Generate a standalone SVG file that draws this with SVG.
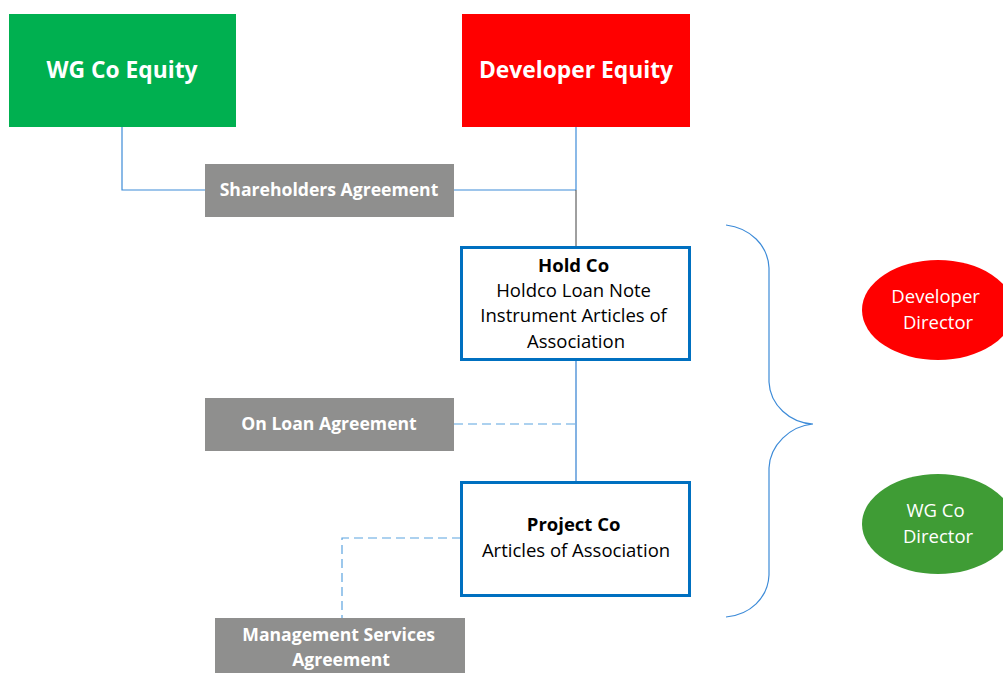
<svg xmlns="http://www.w3.org/2000/svg" width="1003" height="673" viewBox="0 0 1003 673">
<style>
.t{font-family:"Open Sans","Liberation Sans",sans-serif;text-anchor:middle}
.w{fill:#fff}
.b{font-weight:bold}
.gray{fill:#8F8F8E}
.co{fill:#fff;stroke:#0070C0;stroke-width:3}
.ln{fill:none;stroke:#3D8BD8;stroke-width:1.2}
.dash{fill:none;stroke:#5BA3E0;stroke-width:1.2;stroke-dasharray:9 5}
</style>
<rect width="1003" height="673" fill="#fff"/>
<g id="connectors">
<polyline class="ln" points="122,127 122,190 205,190"/>
<polyline class="ln" points="454,190 576,190"/>
<line class="ln" x1="576" y1="127" x2="576" y2="190"/>
<line x1="576" y1="190" x2="576" y2="247" stroke="#404040" stroke-width="1"/>
<line x1="576" y1="360" x2="576" y2="482" stroke="#2F7FD0" stroke-width="1.2"/>
<line class="dash" x1="454" y1="424" x2="576" y2="424"/>
<polyline class="dash" points="461,538 342,538 342,618"/>
<path class="ln" d="M726,225 C750,228 768,245 769,268 L769,382 C770,405 790,423 813,424 C790,426 770,445 769,468 L769,575 C768,598 750,615 726,617" stroke="#2F7FD0"/>
</g>
<g id="wgco-equity">
<rect x="9" y="14" width="227" height="113" fill="#00B050"/>
<text class="t w b" x="122" y="78" font-size="22.8">WG Co Equity</text>
</g>
<g id="developer-equity">
<rect x="462" y="14" width="228" height="113" fill="#FF0000"/>
<text class="t w b" x="576" y="78" font-size="22.8">Developer Equity</text>
</g>
<g id="shareholders-agreement">
<rect class="gray" x="205" y="164" width="249" height="53"/>
<text class="t w b" x="329" y="196" font-size="17.6">Shareholders Agreement</text>
</g>
<g id="hold-co">
<rect class="co" x="461.5" y="247.5" width="228" height="112"/>
<text class="t" font-size="18.5" fill="#000">
<tspan class="b" x="576" y="272">Hold Co</tspan>
<tspan x="576" y="297">Holdco Loan Note</tspan>
<tspan x="576" y="322">Instrument Articles of</tspan>
<tspan x="576" y="348">Association</tspan>
</text>
</g>
<g id="on-loan-agreement">
<rect class="gray" x="205" y="398" width="249" height="53"/>
<text class="t w b" x="329" y="430" font-size="17.6">On Loan Agreement</text>
</g>
<g id="project-co">
<rect class="co" x="461.5" y="482.5" width="228" height="113"/>
<text class="t" font-size="18.5" fill="#000">
<tspan class="b" x="576" y="531">Project Co</tspan>
<tspan x="576" y="557">Articles of Association</tspan>
</text>
</g>
<g id="management-services-agreement">
<rect class="gray" x="215" y="618" width="250" height="55"/>
<text class="t w b" font-size="17.6">
<tspan x="341" y="641">Management Services</tspan>
<tspan x="341" y="666">Agreement</tspan>
</text>
</g>
<g id="developer-director">
<ellipse cx="938" cy="310" rx="76" ry="50" fill="#FF0000"/>
<text class="t w" font-size="18.5">
<tspan x="938" y="303">Developer</tspan>
<tspan x="938" y="329">Director</tspan>
</text>
</g>
<g id="wgco-director">
<ellipse cx="938" cy="524" rx="76" ry="50" fill="#3F9C35"/>
<text class="t w" font-size="18.5">
<tspan x="938" y="517">WG Co</tspan>
<tspan x="938" y="543">Director</tspan>
</text>
</g>
</svg>
